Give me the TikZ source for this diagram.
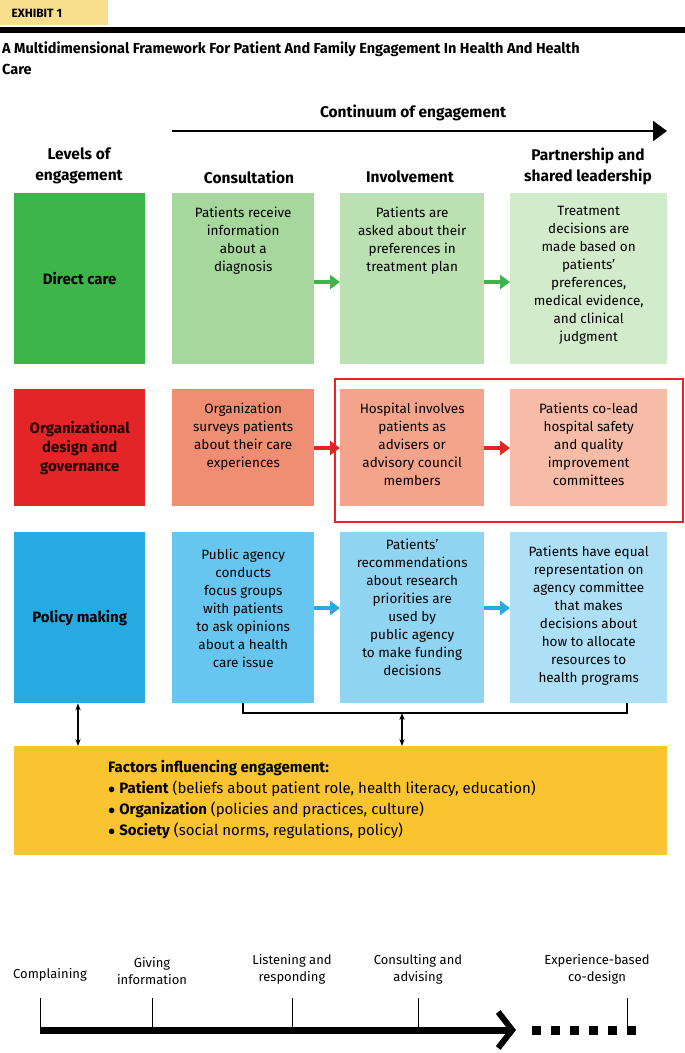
\documentclass[tikz,border=0pt]{standalone}
\usepackage{fontspec}
\setmainfont{Fira Sans}
\usetikzlibrary{positioning, arrows.meta}
\definecolor{dcdark}{HTML}{3DB54B}
\definecolor{dcA}{HTML}{A6D79C}
\definecolor{dcB}{HTML}{BBE1B2}
\definecolor{dcC}{HTML}{D2EBCB}
\definecolor{ordark}{HTML}{E42528}
\definecolor{orA}{HTML}{EF8E72}
\definecolor{orB}{HTML}{F4A48B}
\definecolor{orC}{HTML}{F7BCA8}
\definecolor{pmdark}{HTML}{27AAE1}
\definecolor{pmA}{HTML}{67C6EF}
\definecolor{pmB}{HTML}{90D4F2}
\definecolor{pmC}{HTML}{ADE0F6}
\definecolor{factor}{HTML}{F9C42F}
\definecolor{exhibit}{HTML}{F9DE8E}

\begin{document}
\begin{tikzpicture}[
    x = 1pt, y = -1pt, align = center,
    font = \fontsize{13.5}{18}\selectfont,
    level/.style = {anchor = north west, inner sep = 0pt, font = \fontsize{15}{19}\selectfont\bfseries},
    cell/.style = {anchor = north west, inner sep = 0pt, text depth = 0pt},
    head/.style = {font = \fontsize{15.5}{21}\selectfont\bfseries},
    stagearrow/.style = {-{Triangle[length = 10pt, width = 14pt]}, line width = 3.5pt},
    dbl/.style = {{Stealth[length = 7pt]}-{Stealth[length = 7pt]}, line width = 1.2pt},
    tl/.style = {font = \fontsize{13}{17}\selectfont, anchor = south},
    ]
    \useasboundingbox (0,0) rectangle (685,1053);

    % header
    \fill [exhibit] (0,0) rectangle (108,25);
    \node [anchor = west, font = \fontsize{12}{14}\selectfont\bfseries] (exh) at (8,13) {EXHIBIT 1};
    \fill (0,27) rectangle (685,33);
    \node [anchor = north west, align = left, inner sep = 0pt, font = \fontsize{14.5}{21}\selectfont\bfseries] (title) at (2,42)
        {A Multidimensional Framework For Patient And Family Engagement In Health And Health\\Care};

    \node [head] (cont) at (413,113) {Continuum of engagement};
    \coordinate (c0) at (172,131);
    \coordinate (c1) at (667,131);
    \draw [line width = 2.5pt, -{Triangle[length = 14pt, width = 20pt]}] (c0) -- (c1);

    \node [head] (hlev) at (79,166) {Levels of\\engagement};
    \node [head] (hcon) at (249,177) {Consultation};
    \node [head] (hinv) at (410,177) {Involvement};
    \node [head] (hpar) at (588,166) {Partnership and\\shared leadership};

    % direct care
    \node [level, fill = dcdark, minimum width = 131pt, minimum height = 171pt] (dc) at (14,193) {Direct care};
    \node [cell, fill = dcA, minimum width = 142pt, minimum height = 171pt] (dc1) at (172,193) {};
    \node [cell, fill = dcB, minimum width = 144pt, minimum height = 171pt] (dc2) at (340,193) {};
    \node [cell, fill = dcC, minimum width = 157pt, minimum height = 171pt] (dc3) at (510,193) {};
    \node [anchor = north] at (dc1.north) [yshift = -10pt] {Patients receive\\information\\about a\\diagnosis};
    \node [anchor = north] at (dc2.north) [yshift = -10pt] {Patients are\\asked about their\\preferences in\\treatment plan};
    \node [anchor = north] at (dc3.north) [yshift = -10pt] {Treatment\\decisions are\\made based on\\patients’\\preferences,\\medical evidence,\\and clinical\\judgment};
    \draw [stagearrow, dcdark] (dc1.east |- 0,282) -- (dc2.west |- 0,282);
    \draw [stagearrow, dcdark] (dc2.east |- 0,282) -- (dc3.west |- 0,282);

    % organizational design
    \node [level, fill = ordark, text = black!85!red, minimum width = 131pt, minimum height = 117pt] (od) at (14,389) {Organizational\\design and\\governance};
    \node [cell, fill = orA, minimum width = 142pt, minimum height = 117pt] (od1) at (172,389) {};
    \node [cell, fill = orB, minimum width = 144pt, minimum height = 117pt] (od2) at (340,389) {};
    \node [cell, fill = orC, minimum width = 157pt, minimum height = 117pt] (od3) at (510,389) {};
    \node [anchor = north] at (od1.north) [yshift = -10pt] {Organization\\surveys patients\\about their care\\experiences};
    \node [anchor = north] at (od2.north) [yshift = -10pt] {Hospital involves\\patients as\\advisers or\\advisory council\\members};
    \node [anchor = north] at (od3.north) [yshift = -10pt] {Patients co-lead\\hospital safety\\and quality\\improvement\\committees};
    \draw [stagearrow, ordark] (od1.east |- 0,448) -- (od2.west |- 0,448);
    \draw [stagearrow, ordark] (od2.east |- 0,448) -- (od3.west |- 0,448);
    \draw [ordark, line width = 1.5pt] (335,379) rectangle (683,522);

    % policy making
    \node [level, fill = pmdark, minimum width = 131pt, minimum height = 171pt] (pm) at (14,532) {Policy making};
    \node [cell, fill = pmA, minimum width = 142pt, minimum height = 171pt] (pm1) at (172,532) {};
    \node [cell, fill = pmB, minimum width = 144pt, minimum height = 171pt] (pm2) at (340,532) {};
    \node [cell, fill = pmC, minimum width = 157pt, minimum height = 171pt] (pm3) at (510,532) {};
    \node [anchor = north] at (pm1.north) [yshift = -13pt] {Public agency\\conducts\\focus groups\\with patients\\to ask opinions\\about a health\\care issue};
    \node [anchor = north] at (pm2.north) [yshift = -3pt] {Patients’\\recommendations\\about research\\priorities are\\used by\\public agency\\to make funding\\decisions};
    \node [anchor = north] at (pm3.north) [yshift = -10pt] {Patients have equal\\representation on\\agency committee\\that makes\\decisions about\\how to allocate\\resources to\\health programs};
    \draw [stagearrow, pmdark] (pm1.east |- 0,608) -- (pm2.west |- 0,608);
    \draw [stagearrow, pmdark] (pm2.east |- 0,608) -- (pm3.west |- 0,608);

    % factors
    \node [cell, fill = factor, minimum width = 653pt, minimum height = 109pt] (fac) at (14,746) {};
    \node [anchor = north west, align = left, inner sep = 0pt, font = \fontsize{15}{21}\selectfont] (factxt) at (108,760)
        {\textbf{Factors influencing engagement:}\\
         $\bullet$ \textbf{Patient} (beliefs about patient role, health literacy, education)\\
         $\bullet$ \textbf{Organization} (policies and practices, culture)\\
         $\bullet$ \textbf{Society} (social norms, regulations, policy)};
    \coordinate (bl) at (243,713);
    \coordinate (br) at (627,713);
    \draw [line width = 1.2pt] (pm1.south -| bl) -- (bl) -- (br) -- (pm3.south -| br);
    \draw [dbl] (402,713) -- (fac.north -| 402,0);
    \draw [dbl] (pm.south -| 78,0) -- (fac.north -| 78,0);

    % timeline
    \coordinate (t0) at (40,1030);
    \coordinate (t1) at (152,1030);
    \coordinate (t2) at (292,1030);
    \coordinate (t3) at (418,1030);
    \coordinate (t4) at (627,1030);
    \coordinate (tend) at (516,1030);
    \draw [line width = 7pt, -{Straight Barb[length = 14pt, width = 36pt, line width = 6pt]}] (t0) -- (tend);
    \draw [line width = 9pt, dash pattern = on 9pt off 10pt] (532,1030) -- (636,1030);
    \foreach \t in {t0, t1, t2, t3, t4}
        \draw [thin] (\t) -- ++(0,-32);
    \node [tl] (lc) at (50,985) {Complaining};
    \node [tl] (lg) at (152,988) {Giving\\information};
    \node [tl] (ll) at (292,988) {Listening and\\responding};
    \node [tl] (lk) at (418,988) {Consulting and\\advising};
    \node [tl] (le) at (597,988) {Experience-based\\co-design};
\end{tikzpicture}
\end{document}
